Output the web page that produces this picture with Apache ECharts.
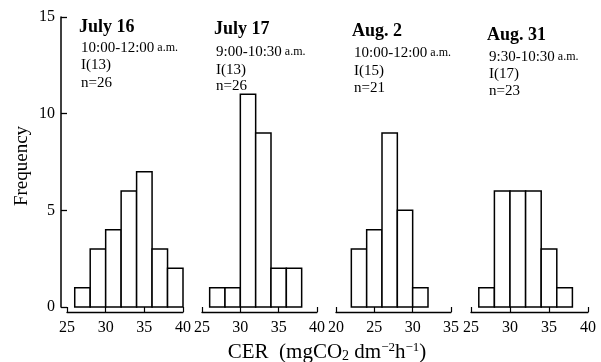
<!DOCTYPE html>
<html>
<head>
<meta charset="utf-8">
<script src="https://cdn.jsdelivr.net/npm/echarts@6/dist/echarts.min.js"></script>
<style>html,body{margin:0;padding:0;background:#fff}#c{width:601px;height:362px}</style>
</head>
<body>
<div id="c"></div>
<script>
// ---- data ----
const binWidth = 2;
const july16Bins = [26, 28, 30, 32, 34, 36, 38];
const july16Counts = [1, 3, 4, 6, 7, 3, 2];
const july17Bins = [26, 28, 30, 32, 34, 36];
const july17Counts = [1, 1, 11, 9, 2, 2];
const aug2Bins = [22, 24, 26, 28, 30];
const aug2Counts = [3, 4, 9, 5, 1];
const aug31Bins = [26, 28, 30, 32, 34, 36];
const aug31Counts = [1, 6, 6, 6, 3, 1];
const xRanges = [[25, 40], [25, 40], [20, 35], [25, 40]];
const yTicks = [0, 5, 10, 15];
const panelTitles = ['July 16', 'July 17', 'Aug. 2', 'Aug. 31'];
const panelTimes = ['10:00-12:00', '9:00-10:30', '10:00-12:00', '9:30-10:30'];
const panelI = ['I(13)', 'I(13)', 'I(15)', 'I(17)'];
const panelN = ['n=26', 'n=26', 'n=21', 'n=23'];

const FONT = '"Liberation Serif", "DejaVu Serif", serif';
const panels = [
  [july16Bins, july16Counts],
  [july17Bins, july17Counts],
  [aug2Bins, aug2Counts],
  [aug31Bins, aug31Counts]
];

const grids = [
  {left: 67, width: 116, top: 17, bottom: 55},
  {left: 202, width: 115, top: 17, bottom: 55},
  {left: 336, width: 115, top: 17, bottom: 55},
  {left: 471, width: 117, top: 17, bottom: 55}
];

const xAxes = xRanges.map((r, i) => ({
  type: 'value', gridIndex: i, min: r[0], max: r[1], interval: 5,
  offset: 5,
  axisLine: {show: true, onZero: false, lineStyle: {color: '#000', width: 1.3}},
  axisTick: {show: true, inside: true, length: 5, lineStyle: {color: '#000', width: 1.2}},
  axisLabel: {show: true, color: '#000', fontFamily: FONT, fontSize: 16, margin: 8},
  splitLine: {show: false}
}));

const yAxes = grids.map((g, i) => ({
  type: 'value', gridIndex: i, min: yTicks[0], max: yTicks[yTicks.length - 1], interval: 5,
  show: i === 0,
  offset: 6,
  axisLine: {show: true, onZero: false, lineStyle: {color: '#000', width: 1.5}},
  axisTick: {show: true, inside: true, length: 6, lineStyle: {color: '#000', width: 1.3}},
  axisLabel: {show: true, color: '#000', fontFamily: FONT, fontSize: 16, margin: 6},
  splitLine: {show: false}
}));

const series = panels.map((p, i) => ({
  type: 'custom', xAxisIndex: i, yAxisIndex: i,
  data: p[0].map((b, k) => [b, p[1][k]]),
  encode: {x: 0, y: 1},
  renderItem: function (params, api) {
    const x0 = api.value(0), y = api.value(1);
    const a = api.coord([x0, y]);
    const b = api.coord([x0 + binWidth, 0]);
    return {
      type: 'rect',
      shape: {x: a[0], y: a[1], width: b[0] - a[0], height: b[1] - a[1]},
      style: {fill: '#fff', stroke: '#000', lineWidth: 1.5}
    };
  }
}));

const textPos = [
  {tx: 79, ty: 27, lx: 81, ly: [48, 65, 83]},
  {tx: 214, ty: 29, lx: 216, ly: [52, 70, 86]},
  {tx: 352, ty: 31, lx: 354, ly: [53, 71, 88]},
  {tx: 487, ty: 35, lx: 489, ly: [57, 74, 91]}
];

const graphics = [];
textPos.forEach((t, i) => {
  graphics.push({type: 'text', x: t.tx, y: t.ty, style: {text: panelTitles[i], font: 'bold 18px ' + FONT, fill: '#000', verticalAlign: 'middle'}});
  graphics.push({type: 'text', x: t.lx, y: t.ly[0], style: {
    text: '{a|' + panelTimes[i] + '}{b| a.m.}', verticalAlign: 'middle', fill: '#000',
    rich: {a: {fontFamily: FONT, fontSize: 15, fill: '#000'}, b: {fontFamily: FONT, fontSize: 12, fill: '#000'}}
  }});
  graphics.push({type: 'text', x: t.lx, y: t.ly[1], style: {text: panelI[i], font: '15px ' + FONT, fill: '#000', verticalAlign: 'middle'}});
  graphics.push({type: 'text', x: t.lx, y: t.ly[2], style: {text: panelN[i], font: '15px ' + FONT, fill: '#000', verticalAlign: 'middle'}});
});
graphics.push({type: 'text', x: 22, y: 166, rotation: Math.PI / 2, style: {
  text: 'Frequency', font: '19px ' + FONT, fill: '#000', align: 'center', verticalAlign: 'middle'
}});
graphics.push({type: 'text', x: 327, y: 352, style: {
  text: '{m|CER  (mgCO}{sub|2}{m| dm}{sup|−2}{m|h}{sup|−1}{m|)}',
  align: 'center', verticalAlign: 'middle', fill: '#000',
  rich: {
    m: {fontFamily: FONT, fontSize: 21, fill: '#000', verticalAlign: 'bottom', lineHeight: 22},
    sub: {fontFamily: FONT, fontSize: 14, fill: '#000', verticalAlign: 'bottom', lineHeight: 18},
    sup: {fontFamily: FONT, fontSize: 13, fill: '#000', verticalAlign: 'top', lineHeight: 14}
  }
}});

const chart = echarts.init(document.getElementById('c'), null, {renderer: 'canvas'});
chart.setOption({
  animation: false,
  backgroundColor: '#fff',
  grid: grids,
  xAxis: xAxes,
  yAxis: yAxes,
  series: series,
  graphic: graphics
});
</script>
</body>
</html>
